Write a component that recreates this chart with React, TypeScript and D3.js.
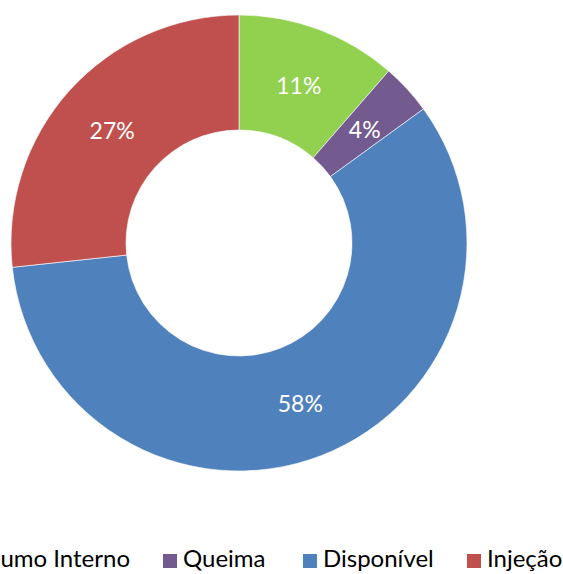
import React, { useEffect, useRef } from 'react';
import * as d3 from 'd3';

const categories = ['Consumo Interno', 'Queima', 'Disponível', 'Injeção'];
const values = [11.4, 3.6, 58.3, 26.7];
const labels = ['11%', '4%', '58%', '27%'];
const colors = ['#92D050', '#735B8F', '#4F81BD', '#C0504D'];

const W = 563;
const H = 574;

export default function App() {
  const ref = useRef<SVGSVGElement>(null);

  useEffect(() => {
    const svg = d3.select(ref.current);
    svg.selectAll('*').remove();

    const cx = 239, cy = 243, outer = 228, inner = 113;
    const pie = d3.pie<number>().sort(null).value(d => d);
    const arc = d3.arc<d3.PieArcDatum<number>>().innerRadius(inner).outerRadius(outer);
    const arcs = pie(values);

    const g = svg.append('g').attr('transform', `translate(${cx},${cy})`);
    g.selectAll('path')
      .data(arcs)
      .enter()
      .append('path')
      .attr('d', arc)
      .attr('fill', (_, i) => colors[i])
      .attr('stroke', '#ffffff')
      .attr('stroke-opacity', 0.6)
      .attr('stroke-width', 1);

    g.selectAll('text')
      .data(arcs)
      .enter()
      .append('text')
      .attr('transform', d => `translate(${arc.centroid(d)})`)
      .attr('text-anchor', 'middle')
      .attr('dy', '0.45em')
      .attr('fill', '#ffffff')
      .style('font-family', 'Lato, sans-serif')
      .style('font-size', '23px')
      .text((_, i) => labels[i]);

    // legend, first item runs off the left edge like in the original
    const boxX = [0, 163, 303, 467];
    const lg = svg.append('g');
    categories.forEach((c, i) => {
      const t = lg.append('text')
        .attr('y', 567)
        .attr('fill', '#000000')
        .style('font-family', 'Lato, sans-serif')
        .style('font-size', '24px')
        .text(c);
      let bx = boxX[i];
      if (i === 0) {
        const w = (t.node() as SVGTextElement).getComputedTextLength();
        bx = 130 - w - 20;
      }
      t.attr('x', bx + 20);
      lg.append('rect')
        .attr('x', bx)
        .attr('y', 554)
        .attr('width', 14)
        .attr('height', 14)
        .attr('fill', colors[i]);
    });
  }, []);

  return (
    <svg
      ref={ref}
      width={W}
      height={H}
      style={{ position: 'absolute', left: 0, top: 0, background: '#ffffff' }}
    />
  );
}
